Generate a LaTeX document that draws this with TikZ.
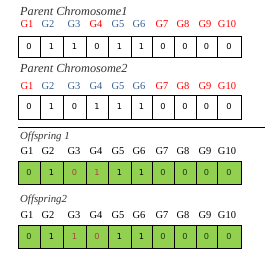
\documentclass[tikz,border=0pt]{standalone}
\usepackage{fontspec}
\setmainfont{Liberation Serif}
\newfontfamily\digitfont{DejaVu Sans}
\definecolor{gred}{HTML}{FF0000}
\definecolor{gblue}{HTML}{365F91}
\definecolor{cellgreen}{HTML}{92D050}
\definecolor{xred}{HTML}{A5453F}
\definecolor{dgreen}{HTML}{1E3A10}
\newcommand{\chrow}[5]{%
  \foreach \dd/\dc [count=\i from 0] in {#5} {
    \pgfmathsetmacro\xl{{18,40,63,86,108,131,152,174,196,217}[\i]}
    \pgfmathsetmacro\xr{{40,63,86,108,131,152,174,196,217,241}[\i]}
    \node[cell, fill=#4, text=\dc, minimum width={\xr-\xl}, minimum height={#3-#2}]
      (#1-\i) at ({(\xl+\xr)/2},{(#2+#3)/2}) {\dd};
  }%
}
\newcommand{\glabels}[3]{% name, y, list label/x/color
  \foreach \lab/\gx/\gc [count=\i] in {#3} {
    \node[glab, text=\gc] (#1-\i) at (\gx,#2) {\lab};
  }%
}
\begin{document}
\begin{tikzpicture}[x=1pt,y=-1pt,
  cell/.style={draw=black, line width=0.8pt, inner sep=0pt, font=\digitfont\fontsize{8.2}{9}\selectfont},
  glab/.style={inner sep=0pt, font=\fontsize{10.5}{12}\selectfont},
  ttl/.style={inner sep=0pt, anchor=west, font=\itshape\fontsize{12.3}{14}\selectfont, text=black!80}]
\useasboundingbox (0,0) rectangle (278,260);
% Parent 1
\node[ttl] (t1) at (20,11) {Parent Chromosome1};
\glabels{g1}{24}{G1/27/gred, G2/48/gblue, G3/74/gblue, G4/96/gred, G5/118/gblue, G6/139/gblue, G7/162/gred, G8/183/gred, G9/205/gred, G10/227/gred}
\chrow{p1}{36}{57}{white}{0/black,1/black,1/black,0/black,1/black,1/black,0/black,0/black,0/black,0/black}
% Parent 2
\node[ttl] (t2) at (20,68) {Parent Chromosome2};
\glabels{g2}{86}{G1/27/gred, G2/48/gblue, G3/74/gblue, G4/96/gblue, G5/118/gblue, G6/139/gblue, G7/162/gred, G8/183/gred, G9/205/gred, G10/227/gred}
\chrow{p2}{95}{119}{white}{0/black,1/black,0/black,1/black,1/black,1/black,0/black,0/black,0/black,0/black}
% separator
\coordinate (ls) at (18,127);
\coordinate (le) at (265,127);
\draw[line width=0.8pt] (ls) -- (le);
% Offspring 1
\node[ttl, font=\itshape\fontsize{10.8}{12}\selectfont] (t3) at (20,137) {Offspring 1};
\glabels{g3}{151}{G1/27/black, G2/48/black, G3/74/black, G4/96/black, G5/118/black, G6/139/black, G7/162/black, G8/183/black, G9/205/black, G10/227/black}
\chrow{o1}{161}{184}{cellgreen}{0/dgreen,1/black,0/xred,1/xred,1/black,1/black,0/dgreen,0/dgreen,0/dgreen,0/dgreen}
% Offspring 2
\node[ttl, font=\itshape\fontsize{10.8}{12}\selectfont] (t4) at (20,200) {Offspring2};
\glabels{g4}{215}{G1/27/black, G2/48/black, G3/74/black, G4/96/black, G5/118/black, G6/139/black, G7/162/black, G8/183/black, G9/205/black, G10/227/black}
\chrow{o2}{225}{248}{cellgreen}{0/dgreen,1/black,1/xred,0/xred,1/black,1/black,0/dgreen,0/dgreen,0/dgreen,0/dgreen}
\end{tikzpicture}
\end{document}
